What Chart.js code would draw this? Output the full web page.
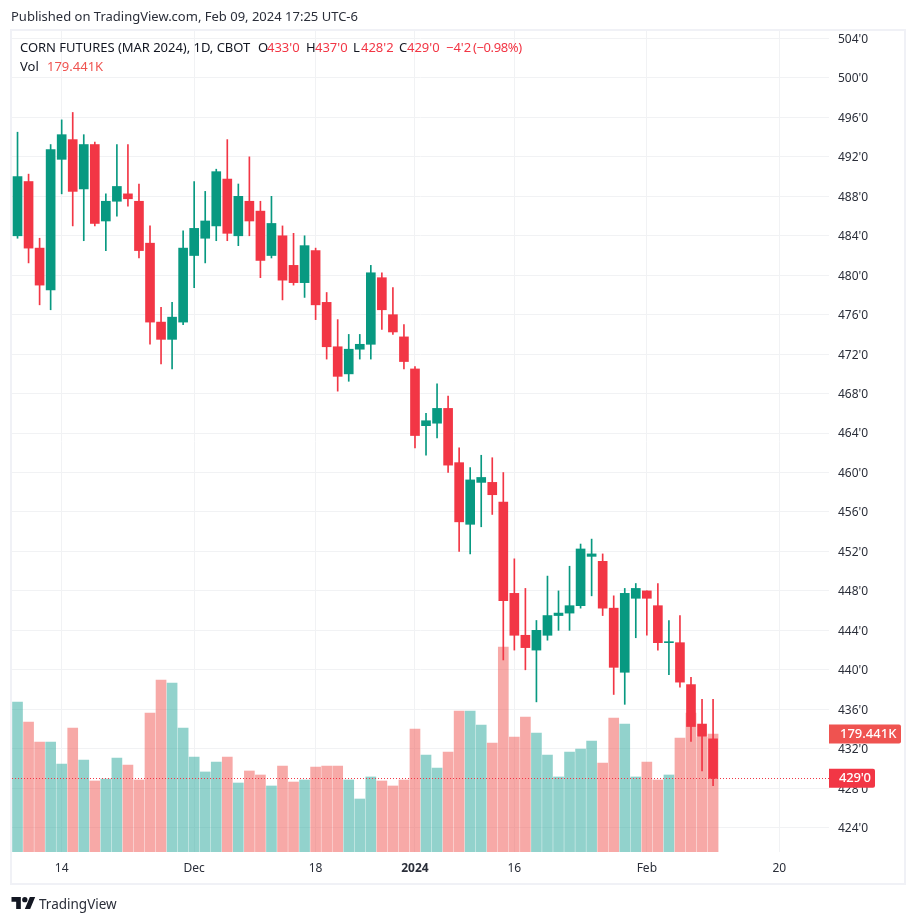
<!DOCTYPE html>
<html>
<head>
<meta charset="utf-8">
<script src="https://cdn.jsdelivr.net/npm/chart.js@4"></script>
<style>
  html, body { margin: 0; padding: 0; background: #fff; }
  body { width: 916px; height: 923px; position: relative; overflow: hidden; font-family: "Noto Sans", sans-serif; color: #131722; }
  canvas { position: absolute; left: 0; top: 0; }
  #frame { position: absolute; left: 10px; top: 29px; width: 892px; height: 852px; border: 2px solid #f0f1f6; }
  .t { position: absolute; white-space: pre; font-size: 13px; line-height: 16px; }
  .r { color: #f23645; }
  #logo { position: absolute; left: 11px; top: 897px; }
</style>
</head>
<body>
<canvas id="myChart" width="916" height="923"></canvas>
<div id="frame"></div>
<div class="t" style="left:11px;top:8px;color:#2a2e39">Published on TradingView.com, Feb 09, 2024 17:25 UTC-6</div>
<div class="t" style="left:20px;top:39px;letter-spacing:-0.03px">CORN FUTURES (MAR 2024), 1D, CBOT</div>
<div class="t" style="left:258px;top:39px">O</div><div class="t r" style="left:267px;top:39px">433'0</div>
<div class="t" style="left:306px;top:39px">H</div><div class="t r" style="left:315px;top:39px">437'0</div>
<div class="t" style="left:353px;top:39px">L</div><div class="t r" style="left:361px;top:39px">428'2</div>
<div class="t" style="left:399px;top:39px">C</div><div class="t r" style="left:407px;top:39px">429'0</div>
<div class="t r" style="left:446px;top:39px">−4'2</div>
<div class="t r" style="left:473px;top:39px;letter-spacing:-0.4px">(−0.98%)</div>
<div class="t" style="left:20px;top:58px">Vol</div>
<div class="t" style="left:47px;top:58px;color:#ef5350">179.441K</div>
<svg id="logo" width="25" height="12" viewBox="0 4 36 18"><path fill="#131722" d="M14 22H7V11H0V4h14v18zM28 22h-8l7.5-18h8L28 22z"/><circle fill="#131722" cx="20" cy="8" r="4"/></svg>
<div class="t" style="left:39px;top:895px;font-size:13.5px;line-height:18px;color:#2a2e39">TradingView</div>
<script>
// trading days, the last ten are the empty space on the right of the chart
const dates = [
  '2023-11-08','2023-11-09','2023-11-10','2023-11-13','2023-11-14','2023-11-15','2023-11-16','2023-11-17',
  '2023-11-20','2023-11-21','2023-11-22','2023-11-24','2023-11-27','2023-11-28','2023-11-29','2023-11-30',
  '2023-12-01','2023-12-04','2023-12-05','2023-12-06','2023-12-07','2023-12-08','2023-12-11','2023-12-12',
  '2023-12-13','2023-12-14','2023-12-15','2023-12-18','2023-12-19','2023-12-20','2023-12-21','2023-12-22',
  '2023-12-26','2023-12-27','2023-12-28','2023-12-29','2024-01-02','2024-01-03','2024-01-04','2024-01-05',
  '2024-01-08','2024-01-09','2024-01-10','2024-01-11','2024-01-12','2024-01-16','2024-01-17','2024-01-18',
  '2024-01-19','2024-01-22','2024-01-23','2024-01-24','2024-01-25','2024-01-26','2024-01-29','2024-01-30',
  '2024-01-31','2024-02-01','2024-02-02','2024-02-05','2024-02-06','2024-02-07','2024-02-08','2024-02-09',
  '2024-02-12','2024-02-13','2024-02-14','2024-02-15','2024-02-16','2024-02-20','2024-02-21','2024-02-22',
  '2024-02-23','2024-02-26'
];

const opens = [
  484, 489.5, 482.75, 478.5, 491.75, 493.75, 488.75, 493.25, 485.5, 487.5, 488.25, 487.5, 483.25,
  475.25, 473.5, 475.25, 482, 483.75, 485, 489.75, 484, 487.5, 486.5, 482, 484, 481,
  479.25, 482.5, 477.25, 472.75, 470, 472.5, 473, 479.75, 476, 473.75, 470.5, 464.75, 465,
  466.5, 461, 454.75, 459, 459, 457, 447.75, 443.5, 442, 443.5, 445.5, 445.75, 446.5, 451.5,
  451, 446.25, 439.75, 447.25, 448, 446.5, 442.75, 442.75, 438.5, 434.5, 433
];
const highs = [
  494.5, 490.25, 483.75, 493.25, 495.75, 496.5, 494.25, 493.5, 488.25, 493.25, 493.25, 489.25, 485,
  476.75, 477.25, 484.5, 489.5, 488.5, 490.75, 493.75, 489.25, 492, 487.5, 488, 485, 484.25,
  484, 482.75, 478.25, 475.5, 474, 474, 481, 480.25, 478.75, 475, 470.75, 466, 469,
  467.75, 462.5, 460.5, 461.75, 461.5, 460, 451.25, 448.25, 445, 449.5, 448, 450.5, 452.75, 453.25,
  451.75, 447.5, 448.25, 448.75, 448, 448.75, 445, 445.5, 439.25, 437, 437
];
const lows = [
  483.75, 481.25, 477, 476.5, 488.25, 485, 483.5, 485, 482.5, 486, 487, 481.75, 473,
  471, 470.5, 475, 478.75, 481.25, 483.5, 483.5, 483, 484, 479.75, 481.75, 477.5, 479,
  477.75, 475.5, 471.5, 468.25, 469.25, 471.5, 471.5, 474.5, 474, 470.5, 462.5, 461.75, 463.5,
  460, 452, 451.75, 454.5, 455.75, 441, 442, 440, 436.75, 443, 444, 444, 446.25, 447.5,
  445.5, 437.5, 436.5, 443.25, 443.5, 442, 439.5, 438.25, 432.75, 429.75, 428.25
];
const closes = [
  490, 482.75, 479, 492.75, 494.25, 488.5, 493.25, 485.25, 487.5, 489, 487.75, 482.5, 475.25,
  473.5, 475.75, 482.75, 484.75, 485.5, 490.5, 484.25, 488, 485.5, 481.5, 485.25, 479.5, 479.25,
  483, 477, 472.75, 469.75, 472.5, 473, 480.25, 476.5, 474.25, 471.25, 463.75, 465.25, 466.5,
  460.75, 455, 459.25, 459.5, 457.75, 447, 443.5, 442.25, 444, 445.5, 445.75, 446.5, 452.25, 451.75,
  446.25, 440.25, 447.75, 448.25, 447.25, 442.75, 442.75, 438.75, 434.25, 433.25, 429
];
// in thousands
const volumes = [
  228.1, 197.7, 167.3, 167.3, 133.8, 188.6, 139.9, 108, 111, 142.9, 132.3, 109.5, 211.4,
  261.6, 257, 188.6, 144.5, 121.7, 136.9, 144.5, 104.9, 123.2, 117.1, 100.4, 130.8, 106.4,
  109.5, 129.3, 130.8, 130.8, 109.5, 80.6, 114.1, 108, 100.4, 109.5, 187, 147.5, 127.7,
  152.1, 214.4, 214.4, 193.1, 165.8, 311.7, 174.9, 205.3, 181, 147.5, 114.1, 152.1, 156.6, 168.8,
  135.3, 203.8, 194.7, 114.1, 136.9, 109.5, 117.1, 173.4, 211.4, 174.4, 179.441
];

const priceTicks = [424, 428, 432, 436, 440, 444, 448, 452, 456, 460, 464, 468, 472, 476, 480, 484, 488, 492, 496, 500, 504];
const timeTicks = {
  '2023-11-14': '14', '2023-12-01': 'Dec', '2023-12-18': '18', '2024-01-02': '2024',
  '2024-01-16': '16', '2024-02-01': 'Feb', '2024-02-20': '20'
};

const upColor = '#089981';
const downColor = '#f23645';
const upVol = 'rgba(38,166,154,0.5)';
const downVol = 'rgba(239,83,80,0.5)';
const gridColor = '#f1f2f4';
const textFont = '"Noto Sans", sans-serif';

const isUp = (i) => closes[i] >= opens[i];
const fmtPrice = (v) => {
  // CBOT quotes eighths after the tick mark
  const whole = Math.floor(v);
  return whole + "'" + Math.round((v - whole) * 8);
};

// tags and the dotted line of the last price
const lastPricePlugin = {
  id: 'lastPrice',
  afterDatasetsDraw(chart) {
    const { ctx, chartArea, scales } = chart;
    const y = Math.round(scales.y.getPixelForValue(closes[closes.length - 1])) + 0.5;
    ctx.save();
    ctx.strokeStyle = downColor;
    ctx.lineWidth = 1;
    ctx.setLineDash([1, 2]);
    ctx.beginPath();
    ctx.moveTo(chartArea.left, y);
    ctx.lineTo(chartArea.right, y);
    ctx.stroke();
    ctx.restore();
  },
  afterDraw(chart) {
    const { ctx, chartArea, scales } = chart;
    const tag = (y, w, color, text, tx, spacing) => {
      ctx.fillStyle = color;
      ctx.beginPath();
      ctx.roundRect(chartArea.right, y - 9.5, w, 19, [0, 2, 2, 0]);
      ctx.fill();
      ctx.fillStyle = '#fff';
      ctx.font = '500 13px ' + textFont;
      ctx.letterSpacing = spacing;
      ctx.textAlign = 'left';
      ctx.textBaseline = 'middle';
      ctx.fillText(text, chartArea.right + tx, y);
    };
    ctx.save();
    tag(scales.yVol.getPixelForValue(volumes[volumes.length - 1]), 72, '#ef5350', '179.441K', 11, '0px');
    tag(scales.y.getPixelForValue(closes[closes.length - 1]), 46, downColor, fmtPrice(closes[closes.length - 1]), 10, '-0.2px');
    ctx.restore();
  }
};

const ctx = document.getElementById('myChart').getContext('2d');
const myChart = new Chart(ctx, {
  type: 'bar',
  data: {
    labels: dates,
    datasets: [
      {
        label: 'Body',
        order: 1,
        data: opens.map((o, i) => [o, closes[i]]),
        backgroundColor: opens.map((o, i) => (isUp(i) ? upColor : downColor)),
        barThickness: 9,
        minBarLength: 1,
        grouped: false,
        yAxisID: 'y',
      },
      {
        label: 'Wick',
        order: 2,
        data: lows.map((l, i) => [l, highs[i]]),
        backgroundColor: opens.map((o, i) => (isUp(i) ? upColor : downColor)),
        barThickness: 1,
        grouped: false,
        yAxisID: 'y',
      },
      {
        label: 'Vol',
        order: 3,
        data: volumes,
        backgroundColor: volumes.map((v, i) => (isUp(i) ? upVol : downVol)),
        barThickness: 10,
        grouped: false,
        yAxisID: 'yVol',
      },
    ],
  },
  options: {
    responsive: false,
    animation: false,
    events: [],
    layout: {
      autoPadding: false,
      padding: { left: 12, top: 31, right: 12, bottom: 40 },
    },
    plugins: {
      legend: { display: false },
      tooltip: { enabled: false },
    },
    scales: {
      x: {
        offset: true,
        grid: { color: gridColor, offset: false, drawTicks: false },
        border: { display: false },
        afterFit(scale) {
          scale.height = 31;
        },
        afterBuildTicks(scale) {
          scale.ticks = scale.ticks.filter((t) => timeTicks[dates[t.value]]);
        },
        ticks: {
          autoSkip: false,
          maxRotation: 0,
          padding: 9,
          color: '#2a2e39',
          font: (c) => ({
            family: textFont,
            size: 12,
            weight: c.tick && c.tick.label === '2024' ? 'bold' : 'normal',
          }),
          callback: (value) => timeTicks[dates[value]],
        },
      },
      y: {
        position: 'right',
        min: 421.53,
        max: 504.76,
        grid: { color: gridColor, drawTicks: false },
        border: { display: false },
        afterFit(scale) {
          scale.width = 75;
        },
        afterBuildTicks(scale) {
          scale.ticks = priceTicks.map((v) => ({ value: v }));
        },
        ticks: {
          padding: 9,
          labelOffset: 1,
          color: '#2a2e39',
          font: { family: textFont, size: 12 },
          callback: (value) => fmtPrice(value),
        },
      },
      yVol: {
        display: false,
        min: 0,
        max: 1248.5,
      },
    },
  },
  plugins: [lastPricePlugin],
});
</script>
</body>
</html>
